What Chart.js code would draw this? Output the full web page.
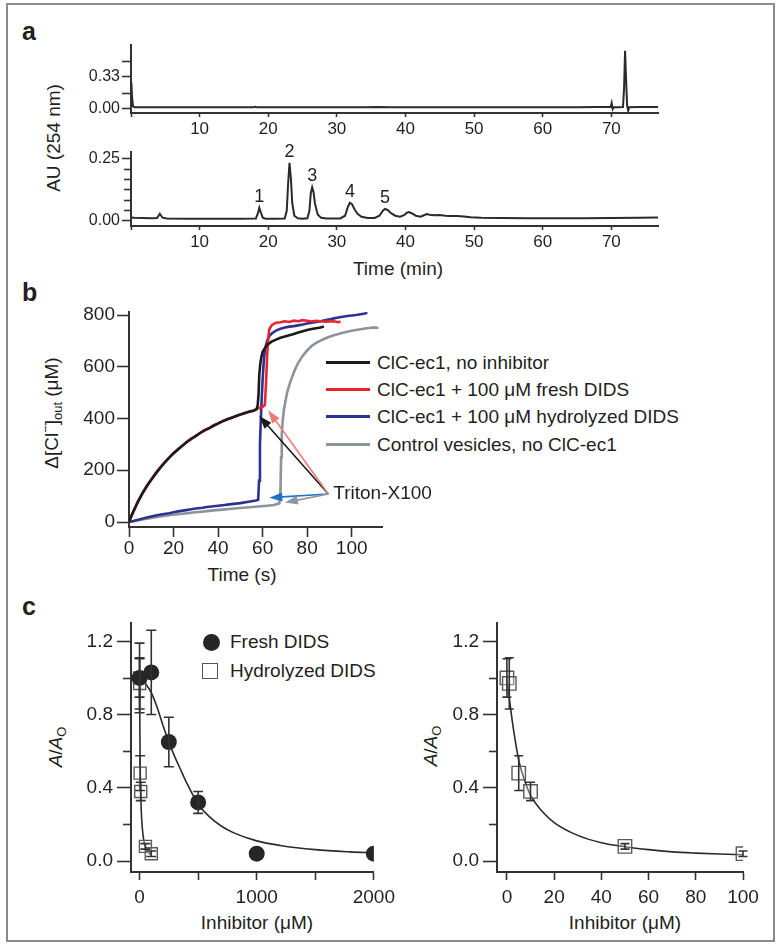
<!DOCTYPE html>
<html>
<head>
<meta charset="utf-8">
<title>DIDS figure</title>
<script src="https://cdn.jsdelivr.net/npm/chart.js@4.4.1/dist/chart.umd.min.js"></script>
<style>
  html, body { margin: 0; padding: 0; background: #fff; }
  #fig {
    position: relative; width: 782px; height: 946px; overflow: hidden;
    font-family: "Liberation Sans", Arial, Helvetica, sans-serif; color: #231f20;
  }
  #frame { position: absolute; left: 6px; top: 3px; width: 769px; height: 939px; border: 2px solid #8a8a8a; box-sizing: border-box; }
  canvas { position: absolute; }
  .lbl { position: absolute; line-height: 1; white-space: nowrap; font-size: 19px; }
  .c { transform: translate(-50%, -50%); }
  .r { transform: translate(-50%, -50%) rotate(-90deg); }
  .panel { font-weight: bold; font-size: 25px; }
  sub, sup { font-size: 0.68em; line-height: 0; }
  .leg { position: absolute; font-size: 19px; line-height: 19px; }
  .legrow { position: absolute; left: 0; display: flex; align-items: center; white-space: nowrap; height: 19px; }
  .sw { display: inline-block; width: 44px; height: 3px; margin-right: 7px; }
  .mk { display: inline-block; width: 18px; height: 18px; margin-right: 10px; position: relative; }
  .mk.dot::after { content: ""; position: absolute; left: 1px; top: 1px; width: 17px; height: 17px; border-radius: 50%; background: #262626; }
  .mk.sq::after { content: ""; position: absolute; left: 0px; top: 1px; width: 16px; height: 16px; box-sizing: border-box; border: 1.5px solid #555; }
</style>
</head>
<body>
<div id="fig">
  <div id="frame"></div>

  <div class="lbl panel" style="left:22px; top:19px">a</div>
  <div class="lbl panel" style="left:22px; top:280px">b</div>
  <div class="lbl panel" style="left:22px; top:594px">c</div>

  <div class="lbl r" style="left:53px; top:138px">AU (254 nm)</div>
  <div class="lbl c" style="left:398px; top:268px">Time (min)</div>

  <div class="lbl r" style="left:51px; top:413px">&Delta;[Cl<sup>&minus;</sup>]<sub>out</sub> (&mu;M)</div>
  <div class="lbl c" style="left:242px; top:574px">Time (s)</div>
  <div class="leg" id="legB" style="left:326px; top:353px"></div>

  <div class="lbl r" style="left:55px; top:747px"><i>A</i>/<i>A</i><sub>O</sub></div>
  <div class="lbl c" style="left:257px; top:922px">Inhibitor (&mu;M)</div>
  <div class="lbl r" style="left:430px; top:746px"><i>A</i>/<i>A</i><sub>O</sub></div>
  <div class="lbl c" style="left:625px; top:922px">Inhibitor (&mu;M)</div>
  <div class="leg" id="legC" style="left:202px; top:632px"></div>

  <canvas id="aTop"></canvas>
  <canvas id="aBot"></canvas>
  <canvas id="bChart"></canvas>
  <canvas id="cLeft"></canvas>
  <canvas id="cRight"></canvas>
</div>

<script>
/* ===== DATA: panel a (HPLC, AU at 254 nm vs time in min) ===== */
const aTopTime = [0.05, 0.15, 0.3, 0.5, 2, 6, 12, 17.8, 18.1, 18.4, 24, 30, 34, 36, 38, 44, 52, 60, 65, 68, 69.9, 70.05, 70.2, 70.35, 71.0, 71.7, 71.85, 72.0, 72.15, 72.3, 72.45, 72.6, 74, 76.8];
const aTopAU = [0.27, 0.12, 0.02, 0.011, 0.01, 0.01, 0.01, 0.01, 0.017, 0.01, 0.01, 0.01, 0.011, 0.013, 0.011, 0.01, 0.01, 0.011, 0.012, 0.013, 0.013, 0.055, -0.008, 0.012, 0.012, 0.013, 0.2, 0.6, 0.3, 0.03, -0.025, 0.012, 0.014, 0.014];

const aBotTime = [0.05, 0.5, 3, 3.8, 4.2, 4.6, 5.2, 8, 12, 16, 18.2, 18.5, 18.7, 18.9, 19.2, 19.6, 21, 22.4, 22.7, 22.9, 23.1, 23.3, 23.5, 23.8, 24.3, 25, 25.7, 26.0, 26.2, 26.4, 26.6, 26.8, 27.2, 27.7, 28.5, 30.5, 31.2, 31.6, 31.9, 32.2, 32.6, 33.0, 33.6, 34.5, 35.5, 36.2, 36.7, 37.0, 37.4, 37.9, 38.5, 39.2, 39.8, 40.2, 40.5, 40.9, 41.5, 42.2, 42.7, 43.1, 43.5, 44.2, 45.0, 45.8, 46.5, 47.5, 48.5, 49.5, 51, 54, 58, 62, 66, 70, 74, 76.8];
const aBotAU = [0.013, 0.012, 0.01, 0.011, 0.028, 0.012, 0.009, 0.008, 0.008, 0.008, 0.009, 0.03, 0.052, 0.035, 0.012, 0.008, 0.008, 0.009, 0.04, 0.15, 0.232, 0.17, 0.07, 0.02, 0.01, 0.008, 0.01, 0.04, 0.11, 0.134, 0.115, 0.07, 0.025, 0.012, 0.009, 0.009, 0.02, 0.055, 0.072, 0.066, 0.045, 0.028, 0.016, 0.011, 0.011, 0.02, 0.04, 0.047, 0.043, 0.03, 0.02, 0.016, 0.022, 0.032, 0.035, 0.03, 0.02, 0.016, 0.022, 0.027, 0.024, 0.022, 0.023, 0.02, 0.019, 0.019, 0.017, 0.014, 0.012, 0.011, 0.01, 0.01, 0.01, 0.011, 0.012, 0.013];

const peakNames = ["1", "2", "3", "4", "5"];
const peakTimes = [18.7, 23.1, 26.4, 31.9, 37.0];
const peakHeights = [0.052, 0.232, 0.134, 0.072, 0.047];

const aTicksX = [0, 10, 20, 30, 40, 50, 60, 70];
const aTopTicksY = [0, 0.33];
const aTopMinorY = [0.165, 0.495];
const aBotTicksY = [0, 0.25];
const aBotMinorY = [0.0417, 0.0833, 0.125, 0.1667, 0.2083];

/* ===== DATA: panel b (chloride efflux, uM vs s) ===== */
const bNames = ["ClC-ec1, no inhibitor", "ClC-ec1 + 100 \u03bcM fresh DIDS", "ClC-ec1 + 100 \u03bcM hydrolyzed DIDS", "Control vesicles, no ClC-ec1"];
const bColors = ["#1b1b1b", "#e8262d", "#2e3192", "#8b939c"];

const blackT = [0, 1, 2, 4, 6, 8, 10, 12, 14, 16, 18, 20, 22, 24, 26, 28, 30, 32, 34, 36, 38, 40, 42, 44, 46, 48, 50, 52, 54, 56, 57.3, 57.8, 58.2, 58.5, 59, 59.5, 60, 61, 62, 64, 66, 68, 70, 72, 74, 76, 78, 80, 82, 84, 86, 87.5];
const blackV = [0, 22, 42, 78, 110, 138, 163, 187, 209, 229, 248, 265, 281, 295, 309, 321, 333, 344, 354, 363, 372, 381, 389, 396, 403, 409, 415, 421, 426, 431, 436, 452, 500, 570, 615, 640, 658, 672, 684, 697, 705, 712, 717, 722, 727, 732, 737, 742, 746, 749, 752, 756];

const redT = [0, 1, 2, 4, 6, 8, 10, 12, 14, 16, 18, 20, 22, 24, 26, 28, 30, 32, 34, 36, 38, 40, 42, 44, 46, 48, 50, 52, 54, 56, 57.3, 58, 59, 60, 61, 61.5, 62, 62.5, 63, 64, 65, 66, 68, 70, 72, 74, 76, 78, 80, 82, 84, 86, 88, 90, 92, 94, 95];
const redV = [0, 20, 40, 80, 112, 140, 164, 189, 210, 231, 249, 267, 280, 296, 310, 323, 332, 345, 356, 362, 374, 380, 390, 397, 402, 410, 416, 420, 427, 430, 436, 440, 442, 445, 452, 530, 640, 710, 745, 760, 766, 770, 772, 776, 773, 778, 776, 780, 778, 775, 778, 776, 774, 775, 776, 772, 775];

const blueT = [0, 2, 5, 8, 10, 12, 15, 18, 20, 22, 25, 28, 30, 33, 35, 38, 40, 43, 45, 48, 50, 53, 55, 57, 58, 58.4, 58.8, 59.2, 59.6, 60, 60.5, 61, 62, 63, 64, 66, 68, 70, 72, 74, 76, 78, 80, 82, 84, 86, 88, 90, 92, 94, 96, 98, 100, 102, 104, 106, 107];
const blueV = [0, 4, 11, 17, 21, 25, 30, 34, 38, 41, 45, 49, 52, 55, 58, 61, 63, 66, 68, 71, 73, 77, 80, 83, 86, 160, 300, 400, 480, 550, 620, 665, 700, 718, 728, 740, 747, 752, 755, 757, 760, 763, 767, 770, 773, 776, 780, 783, 787, 790, 793, 796, 798, 800, 803, 806, 810];

const grayT = [0, 3, 6, 10, 14, 18, 22, 26, 30, 34, 38, 42, 46, 50, 54, 58, 62, 65, 67.5, 68, 68.3, 68.6, 69, 69.5, 70, 71, 72, 73, 74, 75, 76, 78, 80, 82, 84, 86, 88, 90, 92, 94, 96, 98, 100, 102, 104, 106, 108, 110, 112];
const grayV = [0, 5, 10, 16, 21, 26, 30, 34, 38, 41, 45, 48, 51, 54, 57, 60, 63, 66, 72, 120, 250, 340, 390, 430, 455, 500, 530, 555, 578, 598, 615, 642, 663, 680, 692, 701, 709, 716, 722, 727, 731, 735, 739, 742, 745, 748, 750, 752, 750];

// Triton-X100 additions: arrow tail and arrow tips (s, uM)
const tritonTail = [89.5, 108];
const tritonTips = [[58.5, 410], [62.5, 432], [63, 94], [70, 75]];
const tritonColors = ["#1a1a1a", "#f07a7a", "#1e73c8", "#8d95a0"];

const bTicksX = [0, 20, 40, 60, 80, 100];
const bTicksY = [0, 200, 400, 600, 800];

/* ===== DATA: panel c (relative activity vs inhibitor, uM) ===== */
const cNames = ["Fresh DIDS", "Hydrolyzed DIDS"];

const freshConc = [0, 100, 250, 500, 1000, 2000];
const freshAct = [1.00, 1.03, 0.65, 0.32, 0.04, 0.04];
const freshErr = [0.19, 0.23, 0.135, 0.06, 0, 0];

const hydConc = [0, 1, 5, 10, 50, 100];
const hydAct = [1.00, 0.97, 0.48, 0.38, 0.08, 0.04];
const hydErr = [0.105, 0.14, 0.095, 0.05, 0.015, 0.015];

const fitFreshConc = [0, 50, 100, 150, 200, 250, 300, 350, 400, 500, 600, 700, 800, 1000, 1200, 1500, 1800, 2000];
const fitFreshAct = [1.00, 0.97, 0.92, 0.84, 0.74, 0.65, 0.57, 0.50, 0.43, 0.31, 0.24, 0.19, 0.155, 0.11, 0.085, 0.062, 0.05, 0.045];

const fitHydConc = [0, 1, 2, 3, 5, 7.5, 10, 15, 20, 30, 40, 50, 60, 70, 80, 90, 100];
const fitHydAct = [1.00, 0.89, 0.79, 0.70, 0.55, 0.44, 0.36, 0.27, 0.21, 0.14, 0.10, 0.078, 0.062, 0.05, 0.043, 0.038, 0.034];

const cTicksY = [0, 0.4, 0.8, 1.2];
const cMinorY = [0.2, 0.6, 1.0];
const cLeftTicksX = [0, 1000, 2000];
const cLeftMinorX = [500, 1500];
const cRightTicksX = [0, 20, 40, 60, 80, 100];

/* ===== STYLE ===== */
const INK = "#231f20";
const AXIS = "#333333";
const FONT = '"Liberation Sans", Arial, Helvetica, sans-serif';

Chart.defaults.font.family = FONT;
Chart.defaults.color = INK;
Chart.defaults.animation = false;
Chart.defaults.events = [];
Chart.defaults.plugins.legend.display = false;
Chart.defaults.plugins.tooltip.enabled = false;

const pts = (xs, ys) => xs.map((x, i) => ({ x, y: ys[i] }));

function axis(min, max, ticks, fmt, o) {
  return {
    type: "linear", min, max,
    afterBuildTicks: (s) => { s.ticks = ticks.map((v) => ({ value: v })); },
    afterFit: (s) => { if (s.isHorizontal()) s.height = o.size; else s.width = o.size; },
    ticks: { callback: fmt, font: { size: o.font }, padding: o.pad, color: INK, autoSkip: false, maxRotation: 0, minRotation: 0 },
    grid: { drawOnChartArea: false, drawTicks: true, tickLength: o.tick, tickWidth: 1.6, color: AXIS },
    border: { display: true, color: AXIS, width: 2 },
  };
}

function place(id, left, top, w, h) {
  const cv = document.getElementById(id);
  cv.width = w; cv.height = h;
  cv.style.left = left + "px"; cv.style.top = top + "px";
  cv.style.width = w + "px"; cv.style.height = h + "px";
  return cv;
}

/* PLUGINS */
const minorTicks = {
  id: "minorTicks",
  afterDraw(chart, args, opts) {
    const { ctx, chartArea: a, scales } = chart;
    ctx.save();
    ctx.strokeStyle = AXIS;
    ctx.lineWidth = 1.6;
    (opts.x || []).forEach((v) => {
      const px = Math.round(scales.x.getPixelForValue(v)) + 0.5;
      ctx.beginPath(); ctx.moveTo(px, a.bottom); ctx.lineTo(px, a.bottom + opts.xLen); ctx.stroke();
    });
    (opts.y || []).forEach((v) => {
      const py = Math.round(scales.y.getPixelForValue(v)) + 0.5;
      ctx.beginPath(); ctx.moveTo(a.left, py); ctx.lineTo(a.left - opts.yLen, py); ctx.stroke();
    });
    ctx.restore();
  },
};

const errorBars = {
  id: "errorBars",
  afterDatasetsDraw(chart, args, opts) {
    const { ctx, scales: { x, y } } = chart;
    ctx.save();
    ctx.strokeStyle = AXIS;
    ctx.lineWidth = 1.6;
    chart.data.datasets.forEach((ds) => {
      if (!ds.errors) return;
      ds.data.forEach((p, j) => {
        const e = ds.errors[j];
        if (!e) return;
        const px = x.getPixelForValue(p.x);
        const lo = y.getPixelForValue(p.y - e), hi = y.getPixelForValue(p.y + e);
        const cap = opts.cap || 4.5;
        ctx.beginPath();
        ctx.moveTo(px, lo); ctx.lineTo(px, hi);
        ctx.moveTo(px - cap, lo); ctx.lineTo(px + cap, lo);
        ctx.moveTo(px - cap, hi); ctx.lineTo(px + cap, hi);
        ctx.stroke();
      });
    });
    ctx.restore();
  },
};

const peakLabels = {
  id: "peakLabels",
  afterDatasetsDraw(chart) {
    const { ctx, scales: { x, y } } = chart;
    ctx.save();
    ctx.font = "18px " + FONT;
    ctx.fillStyle = INK;
    ctx.textAlign = "center";
    ctx.textBaseline = "alphabetic";
    peakNames.forEach((n, i) => {
      ctx.fillText(n, x.getPixelForValue(peakTimes[i]), y.getPixelForValue(peakHeights[i]) - 6);
    });
    ctx.restore();
  },
};

const tritonArrows = {
  id: "tritonArrows",
  afterDatasetsDraw(chart) {
    const { ctx, scales: { x, y } } = chart;
    const tx = x.getPixelForValue(tritonTail[0]), ty = y.getPixelForValue(tritonTail[1]);
    ctx.save();
    tritonTips.forEach((t, i) => {
      const hx = x.getPixelForValue(t[0]), hy = y.getPixelForValue(t[1]);
      const ang = Math.atan2(hy - ty, hx - tx);
      const c = Math.cos(ang), s = Math.sin(ang);
      ctx.strokeStyle = tritonColors[i];
      ctx.fillStyle = tritonColors[i];
      ctx.lineWidth = 1.6;
      ctx.beginPath(); ctx.moveTo(tx, ty); ctx.lineTo(hx - 9 * c, hy - 9 * s); ctx.stroke();
      ctx.beginPath();
      ctx.moveTo(hx, hy);
      ctx.lineTo(hx - 13 * c + 4.5 * s, hy - 13 * s - 4.5 * c);
      ctx.lineTo(hx - 13 * c - 4.5 * s, hy - 13 * s + 4.5 * c);
      ctx.closePath(); ctx.fill();
    });
    ctx.fillStyle = INK;
    ctx.font = "19px " + FONT;
    ctx.textBaseline = "middle";
    ctx.textAlign = "left";
    ctx.fillText("Triton-X100", tx + 5, ty);
    ctx.restore();
  },
};

/* ===== PANEL a ===== */
const fmt2 = (v) => v.toFixed(2);
const fmtX = (v) => (v === 0 ? "" : String(v));
const trace = (xs, ys) => ({ data: pts(xs, ys), borderColor: "#2a2a2a", borderWidth: 2, pointRadius: 0, tension: 0 });

new Chart(place("aTop", 71, 29, 612, 112), {
  type: "line",
  data: { datasets: [trace(aTopTime, aTopAU)] },
  options: {
    responsive: false,
    layout: { padding: { top: 16, right: 25, left: 0, bottom: 0 } },
    scales: {
      x: axis(0, 76.8, aTicksX, fmtX, { size: 28, font: 17, pad: 2, tick: 4 }),
      y: axis(-0.049, 0.661, aTopTicksY, fmt2, { size: 60, font: 16, pad: 2, tick: 9 }),
    },
    plugins: { minorTicks: { y: aTopMinorY, yLen: 9 } },
  },
  plugins: [minorTicks],
});

new Chart(place("aBot", 71, 136, 612, 120), {
  type: "line",
  data: { datasets: [trace(aBotTime, aBotAU)] },
  options: {
    responsive: false,
    layout: { padding: { top: 16, right: 25, left: 0, bottom: 0 } },
    scales: {
      x: axis(0, 76.8, aTicksX, fmtX, { size: 30, font: 17, pad: 2, tick: 4 }),
      y: axis(-0.0212, 0.2752, aBotTicksY, fmt2, { size: 60, font: 16, pad: 2, tick: 9 }),
    },
    plugins: { minorTicks: { y: aBotMinorY, yLen: 7 } },
  },
  plugins: [minorTicks, peakLabels],
});

/* ===== PANEL b ===== */
const bLine = (xs, ys, i) => ({ data: pts(xs, ys), borderColor: bColors[i], borderWidth: 2.6, pointRadius: 0, tension: 0 });

new Chart(place("bChart", 69, 296, 393, 263), {
  type: "line",
  data: {
    datasets: [bLine(blackT, blackV, 0), bLine(redT, redV, 1), bLine(blueT, blueV, 2), bLine(grayT, grayV, 3)],
  },
  options: {
    responsive: false,
    layout: { padding: { top: 16, right: 80, left: 0, bottom: 0 } },
    scales: {
      x: axis(0, 113.6, bTicksX, (v) => String(v), { size: 32, font: 19, pad: 0, tick: 10 }),
      y: axis(-19.3, 811.6, bTicksY, (v) => String(v), { size: 60, font: 19, pad: 2, tick: 12 }),
    },
  },
  plugins: [tritonArrows],
});

const legB = document.getElementById("legB");
bNames.forEach((n, i) => {
  const row = document.createElement("div");
  row.className = "legrow";
  row.style.top = (i * 27.2) + "px";
  row.innerHTML = `<span class="sw" style="background:${bColors[i]}"></span><span>${n}</span>`;
  legB.appendChild(row);
});

/* ===== PANEL c ===== */
const fmt1 = (v) => v.toFixed(1);
const freshSet = { data: pts(freshConc, freshAct), errors: freshErr, pointStyle: "circle", pointRadius: 8, backgroundColor: "#262626", borderColor: "#262626", borderWidth: 0 };
const hydSet = (r) => ({ data: pts(hydConc, hydAct), errors: hydErr, pointStyle: "rect", pointRadius: r, backgroundColor: "rgba(255,255,255,0.3)", borderColor: "#5a5a5a", borderWidth: 1.4 });
const fitSet = (xs, ys) => ({ data: pts(xs, ys), showLine: true, pointRadius: 0, borderColor: "#2b2b2b", borderWidth: 1.6, cubicInterpolationMode: "monotone" });

new Chart(place("cLeft", 71, 607, 330, 305), {
  type: "scatter",
  data: {
    datasets: [freshSet, hydSet(8.5), fitSet(fitFreshConc, fitFreshAct), fitSet(fitHydConc, fitHydAct)],
  },
  options: {
    responsive: false,
    layout: { padding: { top: 16, right: 25, left: 0, bottom: 0 } },
    scales: {
      x: axis(-73, 2000, cLeftTicksX, (v) => String(v), { size: 40, font: 19, pad: 6, tick: 8 }),
      y: axis(-0.06, 1.3, cTicksY, fmt1, { size: 60, font: 19, pad: 4, tick: 14 }),
    },
    plugins: { minorTicks: { x: cLeftMinorX, xLen: 8, y: cMinorY, yLen: 8 }, errorBars: { cap: 5 } },
  },
  plugins: [minorTicks, errorBars],
});

new Chart(place("cRight", 437, 607, 331, 305), {
  type: "scatter",
  data: {
    datasets: [hydSet(9.5), fitSet(fitHydConc, fitHydAct)],
  },
  options: {
    responsive: false,
    layout: { padding: { top: 16, right: 25, left: 0, bottom: 0 } },
    scales: {
      x: axis(-4.2, 100, cRightTicksX, (v) => String(v), { size: 40, font: 19, pad: 6, tick: 8 }),
      y: axis(-0.06, 1.3, cTicksY, fmt1, { size: 60, font: 19, pad: 4, tick: 14 }),
    },
    plugins: { minorTicks: { y: cMinorY, yLen: 8 }, errorBars: { cap: 4.5 } },
  },
  plugins: [minorTicks, errorBars],
});

const legC = document.getElementById("legC");
cNames.forEach((n, i) => {
  const row = document.createElement("div");
  row.className = "legrow";
  row.style.top = (i * 29.3) + "px";
  row.innerHTML = `<span class="mk ${i === 0 ? "dot" : "sq"}"></span><span>${n}</span>`;
  legC.appendChild(row);
});
</script>
</body>
</html>
